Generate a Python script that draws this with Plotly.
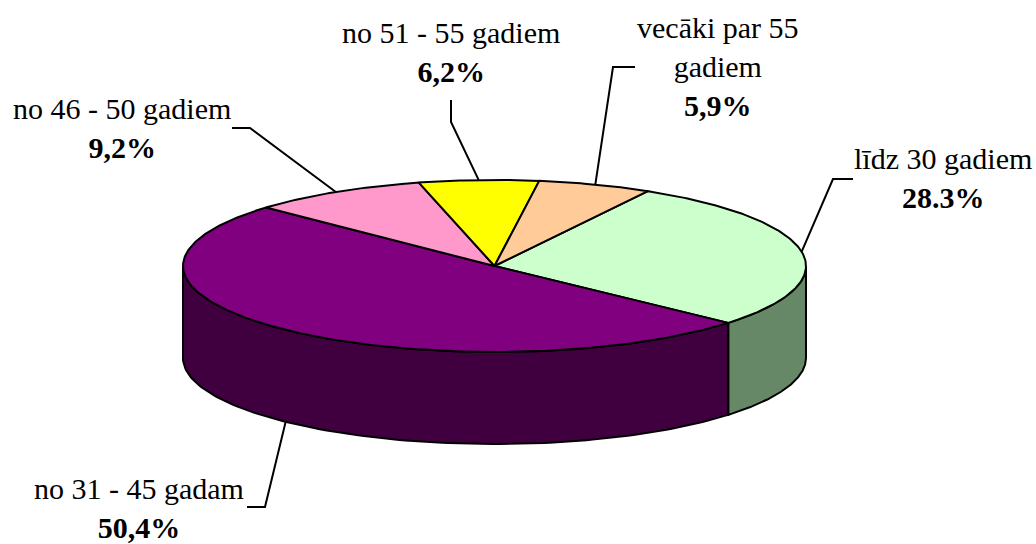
import numpy as np
import plotly.graph_objects as go

# ---- data ----
labels = ["līdz 30 gadiem", "no 31 - 45 gadam", "no 46 - 50 gadiem", "no 51 - 55 gadiem", "vecāki par 55<br>gadiem"]
values = [28.3, 50.4, 9.2, 6.2, 5.9]
pct_text = ["28.3%", "50,4%", "9,2%", "6,2%", "5,9%"]
top_colors = ["#CCFFCC", "#800080", "#FF99CC", "#FFFF00", "#FFCC99"]
side_colors = ["#668866", "#400040", "#804C66", "#808000", "#80664C"]

# ---- layout of the drawing (pixel space) ----
W, H = 1036, 544
cx, cy, rx, ry, depth = 494.5, 266.0, 311.5, 86.0, 92.0
start_angle = 60.5  # degrees, slices run clockwise
FONT = "Liberation Serif"

# label placement: (center x, center y of label block), leader elbow and tail
label_pos = [
    (943, 178, [(833, 179), (853, 179)]),
    (139, 508, [(265, 507), (247, 507)]),
    (122, 128, [(250, 128), (232, 128)]),
    (451, 52, [(451, 122), (451, 100)]),
    (718, 66, [(613, 67), (635, 67)]),
]

def pt(t_deg, dz=0.0):
    t = np.radians(t_deg)
    return cx + rx * np.cos(t), cy - ry * np.sin(t) + dz

fig = go.Figure()
line_style = dict(color="black", width=2)

total = sum(values)
spans = []
cum = 0.0
for v in values:
    a0 = start_angle - cum / total * 360
    a1 = a0 - v / total * 360
    spans.append((a1, a0))
    cum += v

# sides (front half only)
for i, (a1, a0) in enumerate(spans):
    for k in (-1, 0, 1):
        lo = max(a1 + 360 * k, 180)
        hi = min(a0 + 360 * k, 360)
        if lo < hi:
            ts = np.linspace(lo, hi, 120)
            xt, yt = pt(ts)
            xb, yb = pt(ts[::-1], depth)
            xs = np.concatenate([xt, xb, xt[:1]])
            ys = np.concatenate([yt, yb, yt[:1]])
            fig.add_trace(go.Scatter(x=xs, y=ys, mode="lines", fill="toself",
                                     fillcolor=side_colors[i], line=line_style,
                                     hoverinfo="skip", showlegend=False))

# tops
for i, (a1, a0) in enumerate(spans):
    ts = np.linspace(a0, a1, max(int(abs(a0 - a1) * 1.5), 10))
    xa, ya = pt(ts)
    xs = np.concatenate([[cx], xa, [cx]])
    ys = np.concatenate([[cy], ya, [cy]])
    fig.add_trace(go.Scatter(x=xs, y=ys, mode="lines", fill="toself",
                             fillcolor=top_colors[i], line=line_style,
                             hoverinfo="skip", showlegend=False))

# leader lines and labels
for i, (a1, a0) in enumerate(spans):
    tm = (a0 + a1) / 2
    front = np.sin(np.radians(tm)) < 0
    ax_, ay_ = pt(tm, depth if front else 0.0)
    lx, ly, leader = label_pos[i]
    xs = [ax_] + [p[0] for p in leader]
    ys = [ay_] + [p[1] for p in leader]
    fig.add_trace(go.Scatter(x=xs, y=ys, mode="lines", line=dict(color="black", width=2),
                             hoverinfo="skip", showlegend=False))
    fig.add_annotation(x=lx, y=ly, text=labels[i] + "<br><b>" + pct_text[i] + "</b>",
                       showarrow=False, xanchor="center", yanchor="middle", align="center",
                       font=dict(family=FONT, size=30))

fig.update_layout(
    width=W, height=H, margin=dict(l=0, r=0, t=0, b=0),
    paper_bgcolor="white", plot_bgcolor="white",
    font=dict(family=FONT, color="black"),
    xaxis=dict(range=[0, W], visible=False, fixedrange=True),
    yaxis=dict(range=[H, 0], visible=False, fixedrange=True),
)

fig.write_html("out.html", config={"displayModeBar": False},
               post_script="document.body.style.margin='0';document.body.style.overflow='hidden';")
